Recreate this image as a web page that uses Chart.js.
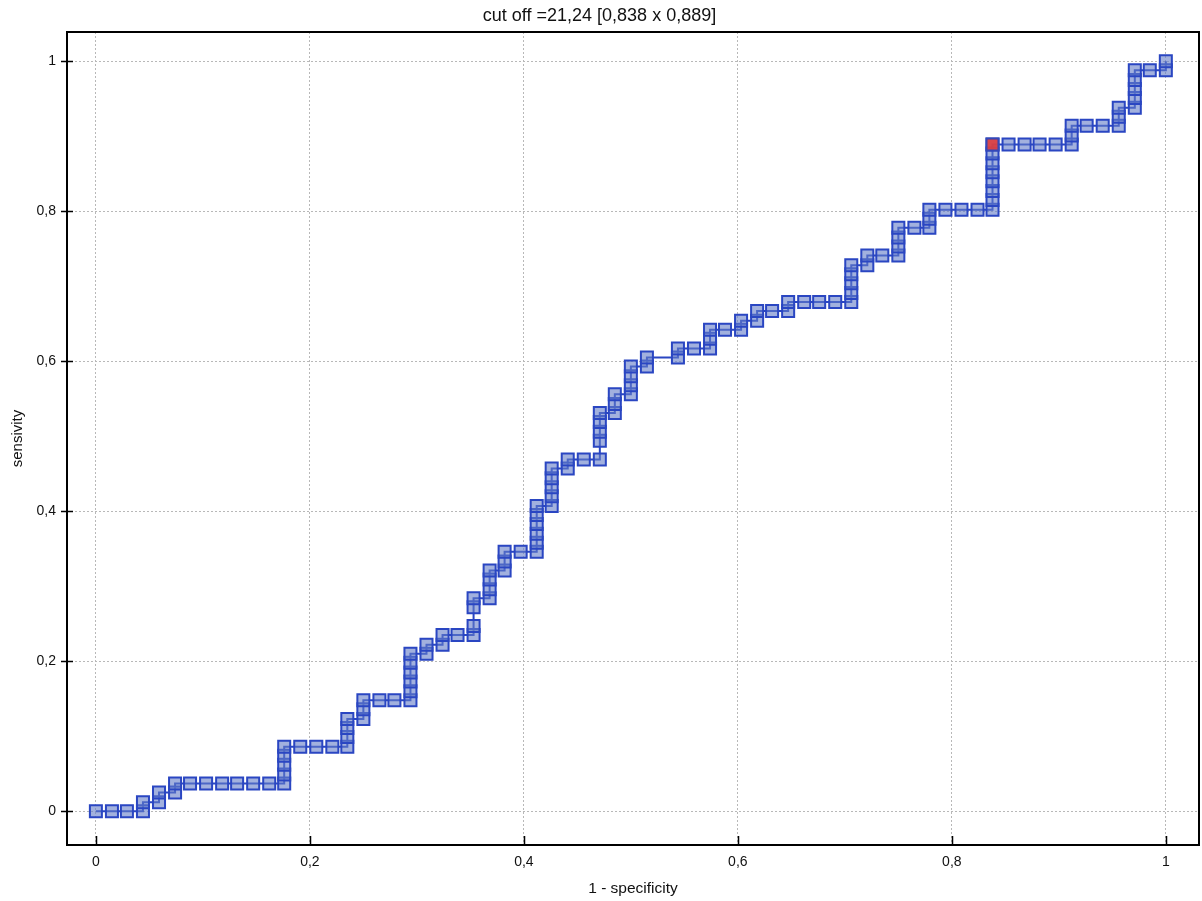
<!DOCTYPE html>
<html>
<head>
<meta charset="utf-8">
<title>ROC curve</title>
<script src="https://cdn.jsdelivr.net/npm/chart.js@4.4.1/dist/chart.umd.min.js"></script>
<style>
  html, body { margin: 0; padding: 0; background: #ffffff; }
  #wrap { width: 1202px; height: 901px; }
</style>
</head>
<body>
<div id="wrap"><canvas id="roc" width="1202" height="901"></canvas></div>
<script>
// ROC points: 1 - specificity (x) and sensitivity (y), one entry per threshold
const fpr = [
  0, 0.015, 0.029, 0.044, 0.044, 0.059, 0.059, 0.074, 0.074, 0.088,
  0.103, 0.118, 0.132, 0.147, 0.162, 0.176, 0.176, 0.176, 0.176, 0.176,
  0.191, 0.206, 0.221, 0.235, 0.235, 0.235, 0.235, 0.25, 0.25, 0.25,
  0.265, 0.279, 0.294, 0.294, 0.294, 0.294, 0.294, 0.294, 0.309, 0.309,
  0.324, 0.324, 0.338, 0.353, 0.353, 0.353, 0.353, 0.368, 0.368, 0.368,
  0.368, 0.382, 0.382, 0.382, 0.397, 0.412, 0.412, 0.412, 0.412, 0.412,
  0.412, 0.426, 0.426, 0.426, 0.426, 0.426, 0.441, 0.441, 0.456, 0.471,
  0.471, 0.471, 0.471, 0.471, 0.485, 0.485, 0.485, 0.5, 0.5, 0.5,
  0.5, 0.515, 0.515, 0.544, 0.544, 0.559, 0.574, 0.574, 0.574, 0.588,
  0.603, 0.603, 0.618, 0.618, 0.632, 0.647, 0.647, 0.662, 0.676, 0.691,
  0.706, 0.706, 0.706, 0.706, 0.706, 0.721, 0.721, 0.735, 0.75, 0.75,
  0.75, 0.75, 0.765, 0.779, 0.779, 0.779, 0.794, 0.809, 0.824, 0.838,
  0.838, 0.838, 0.838, 0.838, 0.838, 0.838, 0.838, 0.853, 0.868, 0.882,
  0.897, 0.912, 0.912, 0.912, 0.926, 0.941, 0.956, 0.956, 0.956, 0.971,
  0.971, 0.971, 0.971, 0.971, 0.985, 1, 1
];
const tpr = [
  0, 0, 0, 0, 0.012, 0.012, 0.025, 0.025, 0.037, 0.037,
  0.037, 0.037, 0.037, 0.037, 0.037, 0.037, 0.049, 0.062, 0.074, 0.086,
  0.086, 0.086, 0.086, 0.086, 0.099, 0.111, 0.123, 0.123, 0.136, 0.148,
  0.148, 0.148, 0.148, 0.160, 0.173, 0.185, 0.198, 0.210, 0.210, 0.222,
  0.222, 0.235, 0.235, 0.235, 0.247, 0.272, 0.284, 0.284, 0.296, 0.309,
  0.321, 0.321, 0.333, 0.346, 0.346, 0.346, 0.358, 0.370, 0.383, 0.395,
  0.407, 0.407, 0.420, 0.432, 0.444, 0.457, 0.457, 0.469, 0.469, 0.469,
  0.494, 0.506, 0.519, 0.531, 0.531, 0.543, 0.556, 0.556, 0.568, 0.580,
  0.593, 0.593, 0.605, 0.605, 0.617, 0.617, 0.617, 0.630, 0.642, 0.642,
  0.642, 0.654, 0.654, 0.667, 0.667, 0.667, 0.679, 0.679, 0.679, 0.679,
  0.679, 0.691, 0.704, 0.716, 0.728, 0.728, 0.741, 0.741, 0.741, 0.753,
  0.765, 0.778, 0.778, 0.778, 0.790, 0.802, 0.802, 0.802, 0.802, 0.802,
  0.815, 0.827, 0.840, 0.852, 0.864, 0.877, 0.889, 0.889, 0.889, 0.889,
  0.889, 0.889, 0.901, 0.914, 0.914, 0.914, 0.914, 0.926, 0.938, 0.938,
  0.951, 0.963, 0.975, 0.988, 0.988, 0.988, 1
];

// Selected cut-off point
const cutoffValue = [21.24];
const cutoffX = [0.838];
const cutoffY = [0.889];

// Axis ticks
const tickValues = [0, 0.2, 0.4, 0.6, 0.8, 1];
const tickLabels = ['0', '0,2', '0,4', '0,6', '0,8', '1'];

const comma = v => String(v).replace('.', ',');
const titleText = 'cut off =' + comma(cutoffValue[0]) + ' [' + comma(cutoffX[0]) + ' x ' + comma(cutoffY[0]) + ']';

const FONT = "'Liberation Sans', Arial, sans-serif";

// Frame around the plot area plus short tick marks on both axes
const framePlugin = {
  id: 'frame',
  afterDatasetsDraw(chart) {
    const { ctx, chartArea: a, scales } = chart;
    ctx.save();
    ctx.strokeStyle = '#000000';
    ctx.lineWidth = 1.5;
    ctx.beginPath();
    scales.x.ticks.forEach(t => {
      const px = Math.round(scales.x.getPixelForValue(t.value)) + 0.5;
      ctx.moveTo(px, a.bottom - 9);
      ctx.lineTo(px, a.bottom);
    });
    scales.y.ticks.forEach(t => {
      const py = Math.round(scales.y.getPixelForValue(t.value)) + 0.5;
      ctx.moveTo(a.left - 6, py);
      ctx.lineTo(a.left + 6, py);
    });
    ctx.stroke();
    ctx.lineWidth = 2;
    ctx.strokeRect(a.left, a.top, a.right - a.left, a.bottom - a.top);
    ctx.restore();
  }
};

const gridOpts = {
  color: '#b8b8b8',
  lineWidth: 1,
  drawTicks: false
};

new Chart(document.getElementById('roc'), {
  type: 'scatter',
  data: {
    datasets: [
      {
        label: 'cut off',
        data: cutoffX.map((x, i) => ({ x, y: cutoffY[i] })),
        pointStyle: 'rect',
        pointRadius: 8.5,
        pointBackgroundColor: 'rgba(222, 60, 60, 0.9)',
        pointBorderColor: '#3548b8',
        pointBorderWidth: 2,
        showLine: false,
        order: 0
      },
      {
        label: 'ROC',
        data: fpr.map((x, i) => ({ x, y: tpr[i] })),
        showLine: true,
        borderColor: '#2a46c2',
        borderWidth: 2,
        pointStyle: 'rect',
        pointRadius: 8.5,
        pointBackgroundColor: 'rgba(100, 125, 200, 0.6)',
        pointBorderColor: '#2a46c2',
        pointBorderWidth: 2,
        order: 1
      }
    ]
  },
  options: {
    responsive: false,
    animation: false,
    devicePixelRatio: 1,
    layout: { autoPadding: false, padding: { left: 0, right: 3, top: 0, bottom: 0 } },
    plugins: {
      legend: { display: false },
      tooltip: { enabled: false },
      title: {
        display: true,
        text: titleText,
        color: '#111111',
        font: { family: FONT, size: 18, weight: 'normal', lineHeight: 1.2 },
        padding: { top: 5, bottom: 5.4 }
      }
    },
    scales: {
      x: {
        type: 'linear',
        min: -0.027,
        max: 1.031,
        afterBuildTicks: s => { s.ticks = tickValues.map(v => ({ value: v })); },
        afterFit: s => { s.height = 56; s.paddingLeft = 0; s.paddingRight = 0; },
        grid: gridOpts,
        border: { display: false, dash: [2, 2] },
        ticks: {
          color: '#111111',
          padding: 9,
          font: { family: FONT, size: 14 },
          callback: (v, i) => tickLabels[i]
        },
        title: {
          display: true,
          text: '1 - specificity',
          color: '#111111',
          font: { family: FONT, size: 15.5, lineHeight: 1.2 },
          padding: { top: 0, bottom: 3 }
        }
      },
      y: {
        type: 'linear',
        min: -0.045,
        max: 1.039,
        afterBuildTicks: s => { s.ticks = tickValues.map(v => ({ value: v })); },
        afterFit: s => { s.width = 67; s.paddingTop = 0; s.paddingBottom = 0; },
        grid: gridOpts,
        border: { display: false, dash: [2, 2] },
        ticks: {
          color: '#111111',
          padding: 11,
          font: { family: FONT, size: 14 },
          callback: (v, i) => tickLabels[i]
        },
        title: {
          display: true,
          text: 'sensivity',
          color: '#111111',
          font: { family: FONT, size: 15, lineHeight: 1.2 },
          padding: { top: 9, bottom: 0 }
        }
      }
    }
  },
  plugins: [framePlugin]
});
</script>
</body>
</html>
